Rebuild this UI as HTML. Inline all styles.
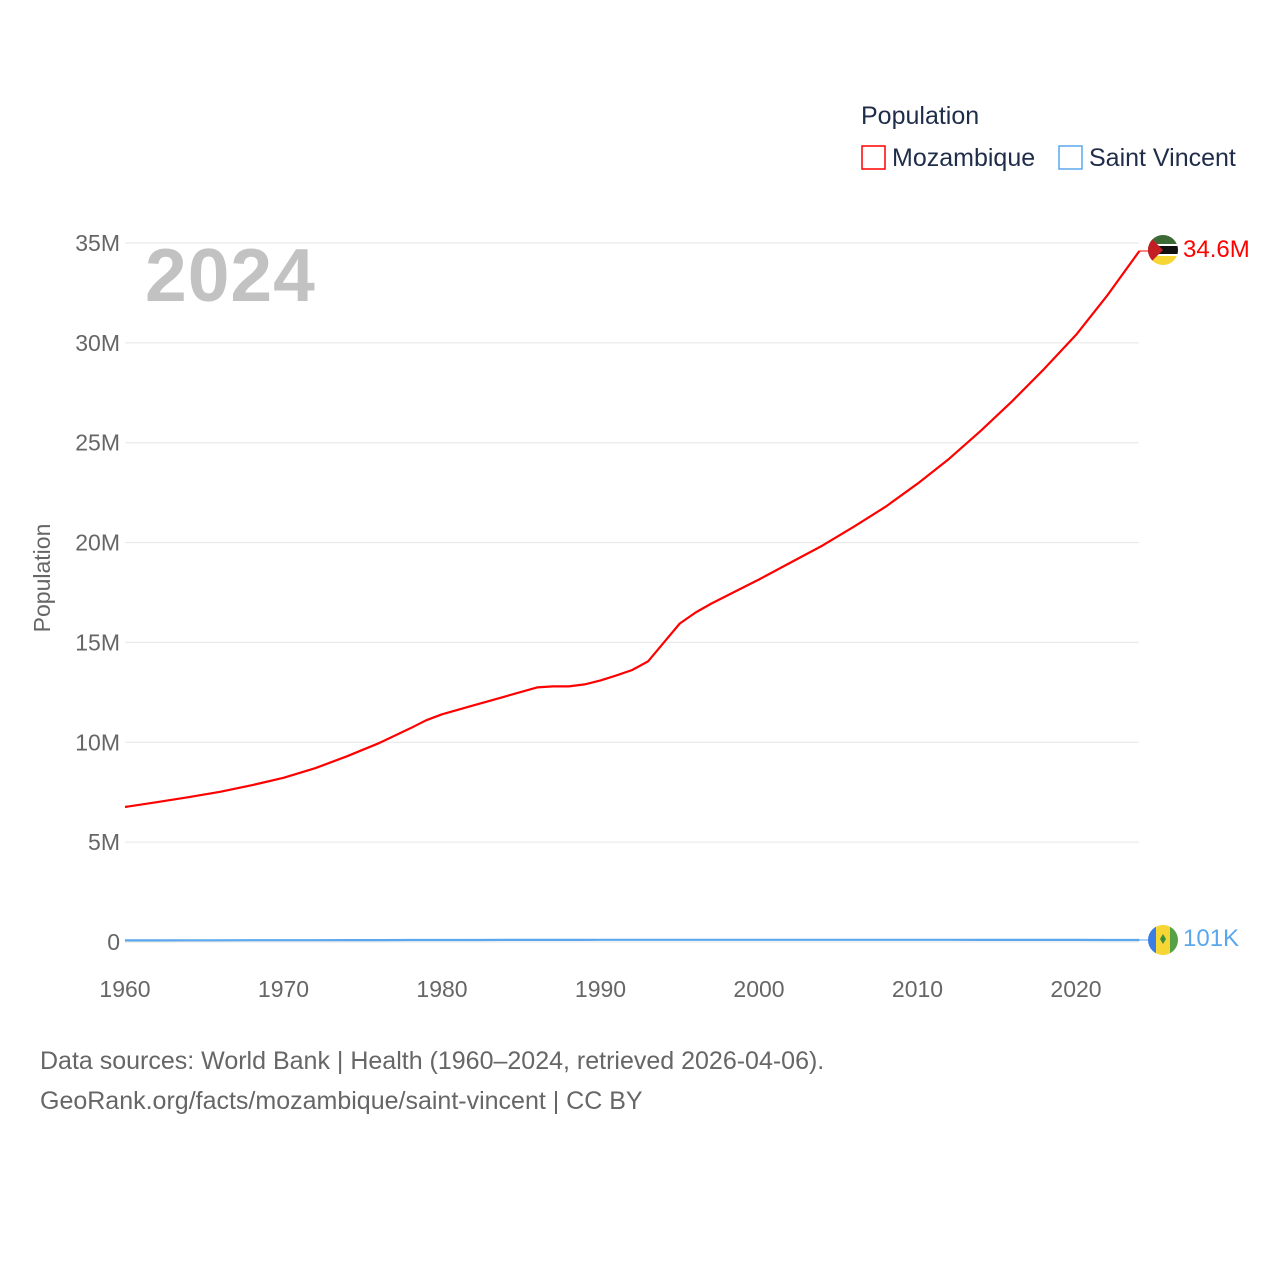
<!DOCTYPE html>
<html><head><meta charset="utf-8"><style>
body{margin:0;background:#fff;font-family:"Liberation Sans",sans-serif}
svg text{font-family:"Liberation Sans",sans-serif}
</style></head><body>
<svg id="c" width="1280" height="1280" viewBox="0 0 1280 1280">
<g id="grid"></g>
<g id="yt"></g>
<g id="xt"></g>
<text x="145" y="301" font-size="75" font-weight="bold" letter-spacing="1" fill="#c2c2c2">2024</text>
<text transform="translate(50,578) rotate(-90)" text-anchor="middle" font-size="23" fill="#666">Population</text>
<text x="861" y="124" font-size="25" fill="#1f2d4a">Population</text>
<g><rect x="862" y="146" width="23" height="23" fill="none" stroke="#f00" stroke-width="1.5"/><text x="892" y="166" font-size="25" fill="#1f2d4a">Mozambique</text></g>
<g><rect x="1059" y="146" width="23" height="23" fill="none" stroke="#5aa7ee" stroke-width="1.5"/><text x="1089" y="166" font-size="25" fill="#1f2d4a">Saint Vincent</text></g>
<g id="series"></g>
<g>
<clipPath id="cm"><circle cx="1163" cy="250" r="15"/></clipPath>
<g clip-path="url(#cm)"><rect x="1148" y="235" width="30" height="10" fill="#3c6a35"/><rect x="1148" y="245" width="30" height="10" fill="#111"/><rect x="1148" y="244" width="30" height="2" fill="#fff"/><rect x="1148" y="254" width="30" height="2" fill="#fff"/><rect x="1148" y="256" width="30" height="9" fill="#f6d635"/><polygon points="1148,235 1163,250 1148,265" fill="#c41e24"/></g></g>
<g>
<clipPath id="cs"><circle cx="1163" cy="940" r="15"/></clipPath>
<g clip-path="url(#cs)"><rect x="1148" y="925" width="8" height="30" fill="#3a7ee5"/><rect x="1156" y="925" width="14" height="30" fill="#f6d635"/><rect x="1170" y="925" width="8" height="30" fill="#56a046"/><polygon points="1163,934 1166,939 1163,944 1160,939" fill="#3a8f3a"/></g></g>
<text x="40" y="1069" font-size="25" fill="#666">Data sources: World Bank | Health (1960–2024, retrieved 2026-04-06).</text>
<text x="40" y="1109" font-size="25" fill="#666">GeoRank.org/facts/mozambique/saint-vincent | CC BY</text>
</svg>
<script>
const years=[1960,1962,1964,1966,1968,1970,1972,1974,1976,1978,1979,1980,1982,1984,1986,1987,1988,1989,1990,1991,1992,1993,1994,1995,1996,1997,1998,1999,2000,2002,2004,2006,2008,2010,2012,2014,2016,2018,2020,2022,2024];
const mozambique=[6.76,7.0,7.25,7.52,7.85,8.22,8.7,9.3,9.95,10.7,11.1,11.4,11.85,12.3,12.75,12.8,12.8,12.9,13.1,13.35,13.62,14.05,15.0,15.95,16.5,16.95,17.35,17.75,18.15,19.0,19.85,20.8,21.8,22.95,24.2,25.6,27.1,28.7,30.4,32.4,34.6];
const saintVincent=[0.08,0.082,0.085,0.087,0.089,0.09,0.092,0.094,0.096,0.098,0.099,0.1,0.102,0.104,0.106,0.107,0.107,0.107,0.108,0.108,0.108,0.108,0.108,0.108,0.108,0.108,0.108,0.108,0.108,0.108,0.108,0.108,0.108,0.108,0.108,0.107,0.106,0.105,0.104,0.102,0.101];
const yTicks=[0,5,10,15,20,25,30,35];
const yTickLabels=["0","5M","10M","15M","20M","25M","30M","35M"];
const xTicks=[1960,1970,1980,1990,2000,2010,2020];
const X=y=>125+(y-1960)*(1076-125)/60;
const Y=v=>942-v*(942-243)/35;
const NS="http://www.w3.org/2000/svg";
const mk=(p,t,a)=>{const e=document.createElementNS(NS,t);for(const k in a)e.setAttribute(k,a[k]);p.appendChild(e);return e;};
const grid=document.getElementById('grid'),yt=document.getElementById('yt'),xt=document.getElementById('xt'),ser=document.getElementById('series');
yTicks.forEach((v,i)=>{
 const l=mk(grid,'line',{x1:125,x2:1139,y1:Y(v),y2:Y(v),stroke:'#e6e6e6','stroke-width':1});
 
 
 const t=mk(yt,'text',{x:120,y:Y(v)+8,'text-anchor':'end','font-size':23,fill:'#666'});
 t.textContent=yTickLabels[i];
 
 
});
xTicks.forEach(v=>{
 const t=mk(xt,'text',{x:X(v),y:997,'text-anchor':'middle','font-size':23,fill:'#666'});
 t.textContent=v;
 
 
});
function line(vals,col,name){
 const d=vals.map((v,i)=>(i?'L':'M')+X(years[i]).toFixed(1)+','+Y(v).toFixed(1)).join(' ');
 const p=mk(ser,'path',{d:d,fill:'none',stroke:col,'stroke-width':2.2,'stroke-linejoin':'round'});
 
 
 const last=vals[vals.length-1],yy=Y(last);
 mk(ser,'line',{x1:X(2024),x2:1148,y1:yy,y2:yy,stroke:col,'stroke-width':1});
}
line(saintVincent,'#5aa7ee','line-saint-vincent');
line(mozambique,'#f00','line-mozambique');
const l1=mk(ser,'text',{x:1183,y:Y(mozambique[mozambique.length-1])+6,'font-size':24,fill:'#f00'});
l1.textContent='34.6M';


const l2=mk(ser,'text',{x:1183,y:Y(saintVincent[saintVincent.length-1])+6,'font-size':24,fill:'#5aa7ee'});
l2.textContent='101K';


</script>
</body></html>
